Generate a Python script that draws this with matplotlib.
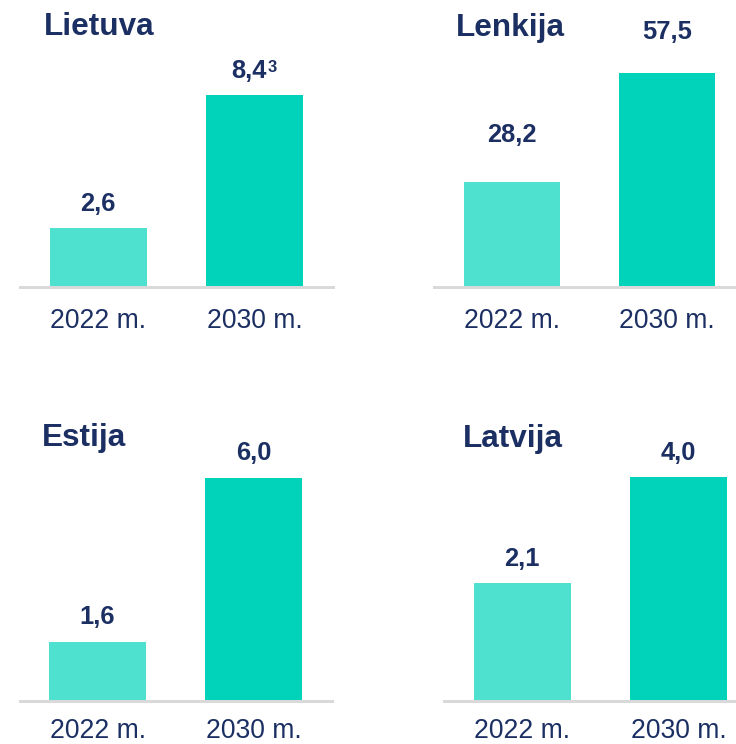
import matplotlib
matplotlib.use("Agg")
import matplotlib.pyplot as plt

plt.rcParams['font.family'] = ['Liberation Sans', 'DejaVu Sans']

# data
countries = ["Lietuva", "Lenkija", "Estija", "Latvija"]
years = ["2022 m.", "2030 m."]
lietuva = [2.6, 8.4]
lenkija = [28.2, 57.5]
estija = [1.6, 6.0]
latvija = [2.1, 4.0]
value_labels = {
    "Lietuva": ["2,6", "8,4"],
    "Lenkija": ["28,2", "57,5"],
    "Estija": ["1,6", "6,0"],
    "Latvija": ["2,1", "4,0"],
}
# footnote marks on value labels (country, bar index) -> mark
footnotes = {("Lietuva", 1): "3"}
series = {"Lietuva": lietuva, "Lenkija": lenkija, "Estija": estija, "Latvija": latvija}

# colours
navy = "#1B2F63"
bar_colors = ["#4FE1CF", "#00D3BA"]
base_gray = "#D9D9D9"

W, H = 736, 744
DPI = 72  # 1 pt == 1 px

# layout in pixels: left, baseline y, width, height of tallest bar, year label drop
layout = {
    "Lietuva": (20, 287, 313, 192, 41),
    "Lenkija": (434, 287, 311, 214, 41),
    "Estija": (19.5, 701, 312, 223, 37),
    "Latvija": (444, 701, 313, 224, 37),
}
# title position (x px, baseline y px)
title_pos = {
    "Lietuva": (44, 35),
    "Lenkija": (456, 36),
    "Estija": (42, 446),
    "Latvija": (463, 446.5),
}
# gap between bar top and label baseline (px)
label_gap = {
    "Lietuva": (17, 17),
    "Lenkija": (40, 34),
    "Estija": (18, 18),
    "Latvija": (17.5, 17),
}

fig = plt.figure(figsize=(W / DPI, H / DPI), dpi=DPI)

for name in countries:
    left, base, width, height, drop = layout[name]
    ax = fig.add_axes([left / W, (H - base) / H, width / W, height / H])
    vals = series[name]
    ax.bar(range(len(vals)), vals, width=0.62, color=bar_colors, zorder=2)
    ax.set_xlim(-0.5, 1.5)
    ax.set_ylim(0, max(vals))

    # value labels
    for i, v in enumerate(vals):
        mark = footnotes.get((name, i))
        dx = -6 if mark else 0
        ax.annotate(value_labels[name][i], xy=(i, v), xytext=(dx, label_gap[name][i]),
                    textcoords='offset points', ha='center', va='baseline',
                    fontsize=25.5, fontweight='bold', color=navy, annotation_clip=False)
        if mark:
            ax.annotate(mark, xy=(i, v), xytext=(13, label_gap[name][i] + 6.5),
                        textcoords='offset points', ha='left', va='baseline',
                        fontsize=16.5, fontweight='bold', color=navy, annotation_clip=False)

    # year labels under the baseline
    for i, y in enumerate(years):
        ax.annotate(y, xy=(i, 0), xycoords=('data', 'axes fraction'), xytext=(0, -drop),
                    textcoords='offset points', ha='center', va='baseline',
                    fontsize=26.5, color=navy, annotation_clip=False)

    for s in ['top', 'right', 'left']:
        ax.spines[s].set_visible(False)
    ax.spines['bottom'].set_color(base_gray)
    ax.spines['bottom'].set_linewidth(3)
    ax.set_xticks([])
    ax.set_yticks([])
    ax.patch.set_alpha(0)

    tx, ty = title_pos[name]
    fig.text(tx / W, (H - ty) / H, name, ha='left', va='baseline',
             fontsize=31.5, fontweight='bold', color=navy)

fig.savefig("out.png", dpi=DPI, facecolor="white")
